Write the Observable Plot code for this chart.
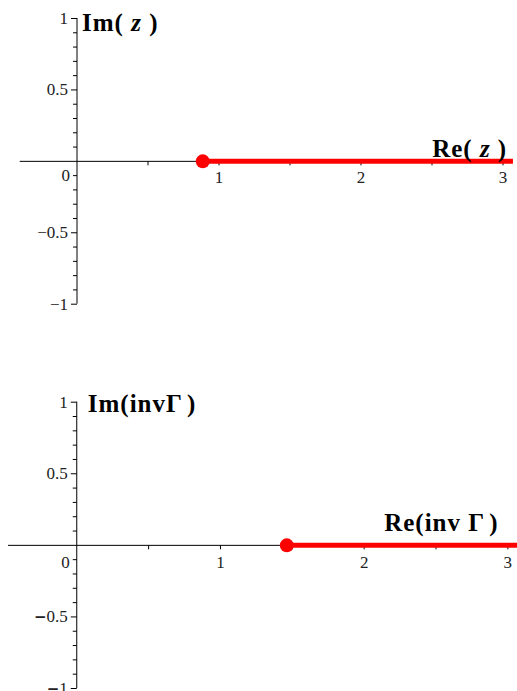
<!DOCTYPE html>
<html><head><meta charset="utf-8">
<script src="https://cdn.jsdelivr.net/npm/d3@7"></script>
<script src="https://cdn.jsdelivr.net/npm/@observablehq/plot@0.6"></script>
<style>
body{margin:0;background:#fff}
#chart svg{display:block;overflow:visible}
</style>
</head><body><div id="chart"></div>
<script>
// ---- data ----
const panelNames = ["z", "invΓ"];
const xLabels = ["Re( z )", "Re(inv Γ)"];
const yLabels = ["Im( z )", "Im(invΓ)"];
const curveStart = [0.8856, 1.4616];   // Re value where the (real) curve begins
const curveEnd = [3.07, 3.067];
const xDomains = [[-0.4, 3.1], [-0.475, 3.067]];
const xTickValues = [0.5, 1, 1.5, 2, 2.5, 3];
const xTickLabels = [1, 2, 3];
const yMajorTicks = [-1, -0.5, 0.5, 1];
const yMinorTicks = [-0.9, -0.8, -0.7, -0.6, -0.4, -0.3, -0.2, -0.1, 0.1, 0.2, 0.3, 0.4, 0.6, 0.7, 0.8, 0.9];
const yTickLabels = [1, 0.5, -0.5, -1];

// ---- layout ----
const layout = [
  {height: 345, mt: 18, mb: 41.3, ml: 19.7, mr: 0.3, imDx: 5, imDy: 4, reDx: -10, reDy: -12, zeroDy: 14, xlDy: 16, boldMinus: false},
  {height: 346, mt: 56.7, mb: 3, ml: 8, mr: 0, imDx: 11, imDy: 2, reDx: -19, reDy: -22, zeroDy: 17, xlDy: 17, boldMinus: true}
];

const serif = "'Liberation Serif', 'Times New Roman', serif";
const hTick = len => ({draw(ctx) { ctx.moveTo(0, 0); ctx.lineTo(-len, 0); }});
const vTick = len => ({draw(ctx) { ctx.moveTo(0, 0); ctx.lineTo(0, len); }});
const fmt = v => (v < 0 ? "\u2212" + Math.abs(v) : String(v));

function makePanel(i) {
  const L = layout[i];
  const [x0, x1] = xDomains[i];
  const curve = [{x: curveStart[i], y: 0}, {x: curveEnd[i], y: 0}];
  const tickFont = {fontSize: 17, fontFamily: serif, fill: "#222"};
  const titleFont = {fontSize: 25, fontWeight: "bold", fontFamily: serif, fill: "#000"};
  const svg = Plot.plot({
    width: 517,
    height: L.height,
    marginTop: L.mt, marginBottom: L.mb, marginLeft: L.ml, marginRight: L.mr,
    x: {domain: xDomains[i], axis: null},
    y: {domain: [-1, 1], axis: null},
    style: {background: "white"},
    marks: [
      Plot.ruleY([0], {x1: x0, x2: curveEnd[i], stroke: "#000", strokeWidth: 1}),
      Plot.ruleX([0], {y1: -1, y2: 1, stroke: "#000", strokeWidth: 1}),
      Plot.dot(yMinorTicks, {x: () => 0, y: d => d, symbol: hTick(4), stroke: "#000", fill: "none", strokeWidth: 1}),
      Plot.dot(yMajorTicks, {x: () => 0, y: d => d, symbol: hTick(6), stroke: "#000", fill: "none", strokeWidth: 1}),
      Plot.dot(xTickValues, {x: d => d, y: () => 0, symbol: vTick(4), stroke: "#000", fill: "none", strokeWidth: 1}),
      Plot.text(yTickLabels, {x: () => 0, y: d => d, text: fmt, textAnchor: "end", dx: -9, ...tickFont}),
      Plot.text([0], {x: () => 0, y: () => 0, text: d => String(d), textAnchor: "end", dx: -7, dy: L.zeroDy, ...tickFont}),
      Plot.text(xTickLabels, {x: d => d, y: () => 0, text: d => String(d), dy: L.xlDy, ...tickFont}),
      Plot.line(curve, {x: "x", y: "y", stroke: "#ff0000", strokeWidth: 5, strokeLinecap: "butt"}),
      Plot.dot([curveStart[i]], {x: d => d, y: () => 0, r: 7, fill: "#ff0000", stroke: "none"}),
      Plot.text([yLabels[i]], {x: () => 0, y: () => 1, text: d => d, textAnchor: "start", dx: L.imDx, dy: L.imDy, ...titleFont}),
      Plot.text([xLabels[i]], {x: () => x1, y: () => 0, text: d => d, textAnchor: "end", dx: L.reDx, dy: L.reDy, ...titleFont})
    ]
  });
  d3.select(svg).selectAll("text").each(function() {
    const t = this.textContent;
    const s = d3.select(this);
    if (t === "Im( z )" || t === "Re( z )") {
      // italic z, as in the original
      const pre = t.slice(0, 4);
      this.textContent = "";
      s.attr("letter-spacing", 1);
      s.append("tspan").text(pre);
      s.append("tspan").attr("font-style", "italic").text("z");
      s.append("tspan").text(" )");
    } else if (t === "Im(invΓ)" || t === "Re(inv Γ)") {
      s.attr("letter-spacing", 1);
      this.textContent = "";
      s.append("tspan").text(t.slice(0, -1));
      s.append("tspan").attr("dx", 4).text(")");
    } else if (L.boldMinus && t.startsWith("\u2212")) {
      this.textContent = "";
      s.append("tspan").attr("font-weight", "bold").attr("font-family", "'DejaVu Sans', sans-serif").attr("font-size", 15).text("\u2212");
      s.append("tspan").text(t.slice(1));
    }
  });
  return svg;
}

const root = document.getElementById("chart");
panelNames.forEach((_, i) => root.appendChild(makePanel(i)));
</script>
</body></html>
